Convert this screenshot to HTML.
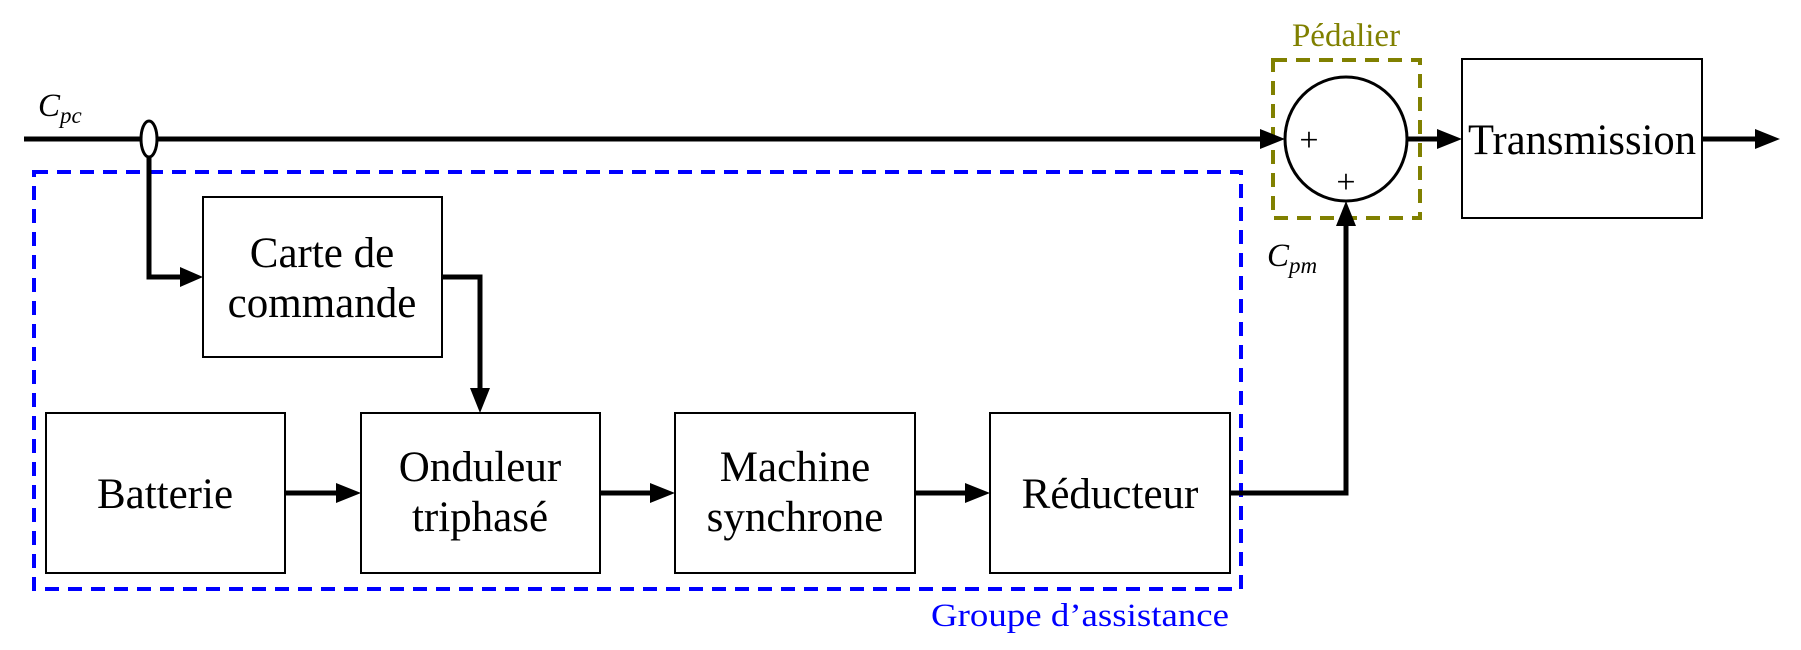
<!DOCTYPE html>
<html><head><meta charset="utf-8"><style>html,body{margin:0;padding:0;background:#fff}svg{display:block}text{font-family:"Liberation Serif",serif}</style></head>
<body>
<svg width="1801" height="650" viewBox="0 0 1801 650" xmlns="http://www.w3.org/2000/svg">
<g fill="none" stroke="#000">
<rect x="34" y="172" width="1207" height="417" stroke="#0000ff" stroke-width="4" stroke-dasharray="14,9"/>
<rect x="1273" y="60" width="147" height="158" stroke="#808000" stroke-width="4" stroke-dasharray="14,9"/>
<g stroke-width="2">
<rect x="203" y="197" width="239" height="160"/>
<rect x="46" y="413" width="239" height="160"/>
<rect x="361" y="413" width="239" height="160"/>
<rect x="675" y="413" width="240" height="160"/>
<rect x="990" y="413" width="240" height="160"/>
<rect x="1462" y="59" width="240" height="159"/>
</g>
<ellipse cx="1346" cy="139" rx="61" ry="62" stroke-width="3"/>
<ellipse cx="149" cy="139" rx="8" ry="18" stroke-width="3"/>
<g stroke-width="5">
<line x1="24" y1="139" x2="141" y2="139"/>
<line x1="157" y1="139" x2="1264" y2="139"/>
<path d="M149,157 V277 H182"/>
<path d="M442,277 H480 V392"/>
<line x1="285" y1="493" x2="340" y2="493"/>
<line x1="600" y1="493" x2="654" y2="493"/>
<line x1="915" y1="493" x2="969" y2="493"/>
<path d="M1230,493 H1346 V222"/>
<line x1="1407" y1="139" x2="1441" y2="139"/>
<line x1="1702" y1="139" x2="1760" y2="139"/>
</g>
</g>
<g fill="#000">
<path d="M1260,129 L1285,139 L1260,149 z"/>
<path d="M180,267 L203,277 L180,287 z"/>
<path d="M470,388 L480,413 L490,388 z"/>
<path d="M336,483 L361,493 L336,503 z"/>
<path d="M650,483 L675,493 L650,503 z"/>
<path d="M965,483 L990,493 L965,503 z"/>
<path d="M1336,226 L1346,201 L1356,226 z"/>
<path d="M1437,129 L1462,139 L1437,149 z"/>
<path d="M1755,129 L1780,139 L1755,149 z"/>
</g>
<g font-size="43" text-anchor="middle" fill="#000">
<text x="322" y="267">Carte de</text>
<text x="322" y="317">commande</text>
<text x="165" y="508">Batterie</text>
<text x="480" y="481">Onduleur</text>
<text x="480" y="531">triphasé</text>
<text x="795" y="481">Machine</text>
<text x="795" y="531">synchrone</text>
<text x="1110" y="508">Réducteur</text>
<text x="1582" y="154" textLength="228" lengthAdjust="spacingAndGlyphs">Transmission</text>
</g>
<text x="1346" y="46" font-size="33" text-anchor="middle" fill="#808000">Pédalier</text>
<text x="1229" y="626" font-size="33" text-anchor="end" fill="#0000ff" textLength="298" lengthAdjust="spacingAndGlyphs">Groupe d’assistance</text>
<text x="1309" y="151" font-size="34" text-anchor="middle">+</text>
<text x="1346" y="193" font-size="34" text-anchor="middle">+</text>
<text x="38" y="116" font-size="33" font-style="italic">C<tspan font-size="23" dy="7">pc</tspan></text>
<text x="1267" y="266" font-size="33" font-style="italic">C<tspan font-size="23" dy="7">pm</tspan></text>
</svg>
</body></html>
